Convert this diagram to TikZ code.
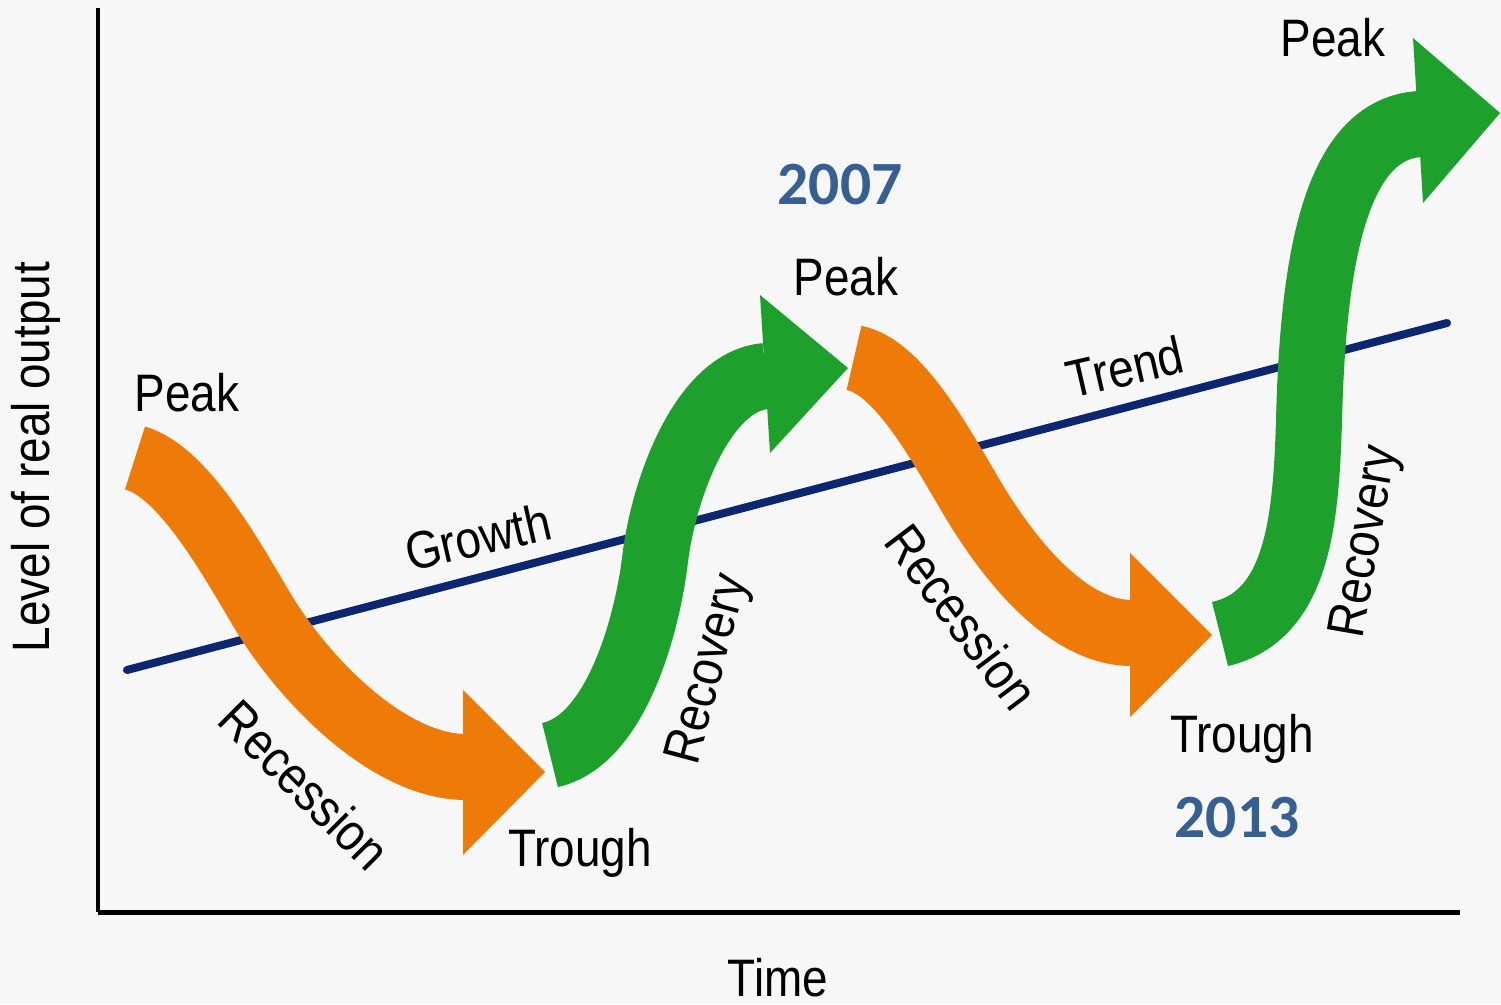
\documentclass[tikz,border=0pt]{standalone}
\usepackage{fontspec}
\setmainfont{Liberation Sans}[FakeStretch=0.87]
\newfontfamily\yearfont{Carlito}
\usepackage{tikz}

\definecolor{bgcol}{RGB}{247,247,247}
\definecolor{recorange}{RGB}{238,122,8}
\definecolor{rcvgreen}{RGB}{30,160,45}
\definecolor{trendblue}{RGB}{12,38,112}
\definecolor{yearblue}{RGB}{54,96,146}

\begin{document}
\begin{tikzpicture}[x = 0.1mm, y = -0.1mm,
                    lbl/.style = {font = \fontsize{15}{18}\selectfont, inner sep = 0pt},
                    yearlbl/.style = {font = \yearfont\bfseries\fontsize{17.5}{21}\selectfont, text = yearblue, inner sep = 0pt},
                    recband/.style = {draw = recorange, line width = 6.6mm, line cap = butt},
                    rcvband/.style = {draw = rcvgreen, line width = 6.6mm, line cap = butt}]
      \fill [bgcol] (0,0) rectangle (1501,1004);
      \useasboundingbox (0,0) rectangle (1501,1004);

      % axes
      \coordinate (o) at (98,912);
      \coordinate (ytop) at (98,8);
      \coordinate (xend) at (1460,912);
      \draw [line width = 0.35mm] (ytop) -- (o);
      \draw [line width = 0.5mm] (o) -- (xend);

      % trend line
      \coordinate (t1) at (127,670);
      \coordinate (t2) at (1447,323);
      \draw [trendblue, line width = 0.8mm, line cap = round] (t1) -- (t2);

      % first recession
      \coordinate (a1) at (135,458);
      \coordinate (a2) at (262,610);
      \coordinate (a3) at (466,767);
      \draw [recband] (a1) .. controls (183,471) and (231,558) .. (a2)
                          .. controls (303,679) and (388,767) .. (a3);
      \fill [recorange] (463,690) -- (545,772) -- (463,855) -- cycle;

      % first recovery
      \coordinate (b1) at (550,755);
      \coordinate (b2) at (655,560);
      \coordinate (b3) at (766,376);
      \draw [rcvband] (b1) .. controls (618,740) and (648,619) .. (b2)
                          .. controls (663,491) and (702,381) .. (b3);
      \fill [rcvgreen] (760,295) -- (848,368) -- (770,453) -- cycle;

      % second recession
      \coordinate (c1) at (854,358);
      \coordinate (c2) at (968,491);
      \coordinate (c3) at (1132,633);
      \draw [recband] (c1) .. controls (898,366) and (940,444) .. (c2)
                          .. controls (998,543) and (1060,633) .. (c3);
      \fill [recorange] (1130,553) -- (1212,635) -- (1130,717) -- cycle;

      % second recovery
      \coordinate (d1) at (1220,634);
      \coordinate (d2) at (1309,420);
      \coordinate (d3) at (1420,124);
      \draw [rcvband] (d1) .. controls (1298,616) and (1306,520) .. (d2)
                          .. controls (1313,260) and (1335,129) .. (d3);
      \fill [rcvgreen] (1413,38) -- (1500,113) -- (1423,203) -- cycle;

      % labels
      \node [lbl, rotate = 90] (ylab) at (36,457) {Level of real output};
      \node [lbl, anchor = base] (time) at (778,996) {Time};
      \node [lbl, anchor = base] (pk1) at (187,411) {Peak};
      \node [lbl, rotate = 13] (growth) at (478,537) {Growth};
      \node [lbl, rotate = -45] (rec1) at (305,785) {Recession};
      \node [lbl, anchor = base] (tr1) at (580,866) {Trough};
      \node [lbl, rotate = 75] (rcv1) at (710,670) {Recovery};
      \node [yearlbl, anchor = base] (y07) at (840,205) {2007};
      \node [lbl, anchor = base] (pk2) at (846,295) {Peak};
      \node [lbl, rotate = 13] (trend) at (1125,367) {Trend};
      \node [lbl, rotate = -53] (rec2) at (962,617) {Recession};
      \node [lbl, anchor = base] (tr2) at (1242,752) {Trough};
      \node [yearlbl, anchor = base] (y13) at (1237,837) {2013};
      \node [lbl, rotate = 80] (rcv2) at (1367,542) {Recovery};
      \node [lbl, anchor = base] (pk3) at (1333,57) {Peak};
    \end{tikzpicture}
\end{document}
